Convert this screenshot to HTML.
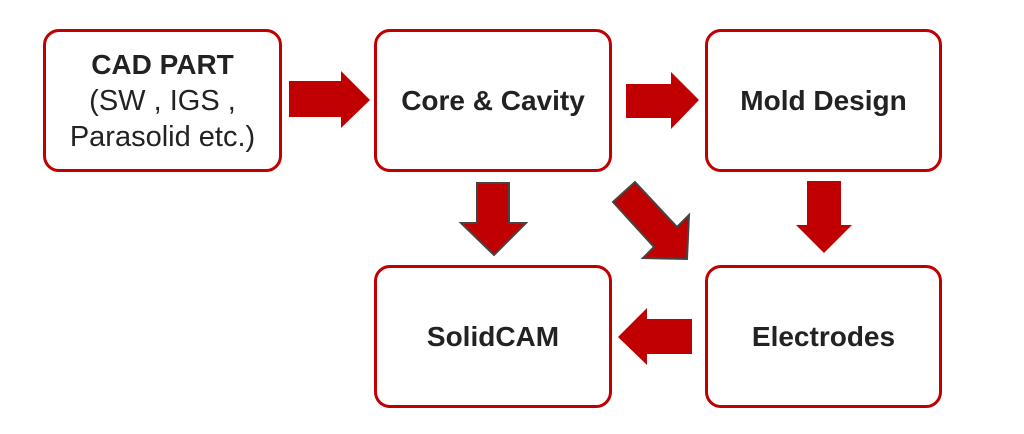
<!DOCTYPE html>
<html><head><style>
html,body{margin:0;padding:0;background:#fff;width:1024px;height:434px;overflow:hidden}
.b{position:absolute;box-sizing:border-box;border:3px solid #c00000;border-radius:16px;background:#fff;display:flex;align-items:center;justify-content:center;text-align:center;font-family:"Liberation Sans",sans-serif;color:#222;font-size:28px;line-height:36px;font-weight:bold}
.n{font-weight:normal;font-size:29px}
svg{position:absolute;left:0;top:0}
</style></head><body>
<div class="b" style="left:43px;top:29px;width:239px;height:143px"><div>CAD PART<br><span class="n">(SW , IGS ,<br>Parasolid etc.)</span></div></div>
<div class="b" style="left:374px;top:29px;width:238px;height:143px">Core &amp; Cavity</div>
<div class="b" style="left:705px;top:29px;width:237px;height:143px">Mold Design</div>
<div class="b" style="left:374px;top:265px;width:238px;height:143px">SolidCAM</div>
<div class="b" style="left:705px;top:265px;width:237px;height:143px">Electrodes</div>
<svg width="1024" height="434">
<g fill="#c00000">
<polygon points="289,81 341,81 341,71 370,100 341,128 341,117 289,117"/>
<polygon points="626,84 671,84 671,72 699,100 671,129 671,118 626,118"/>
<polygon points="807,181 841,181 841,225 852,225 824,253 796,225 807,225"/>
<polygon points="692,319 647,319 647,308 618,337 647,365 647,354 692,354"/>
</g>
<g fill="#c00000" stroke="#444" stroke-width="2">
<polygon points="477,183 509,183 509,223 526,223 494,255 461,223 477,223"/>
<polygon points="635,182 677,227 689,215 687,259 643,258 654,247 613,202"/>
</g>
</svg>
</body></html>
